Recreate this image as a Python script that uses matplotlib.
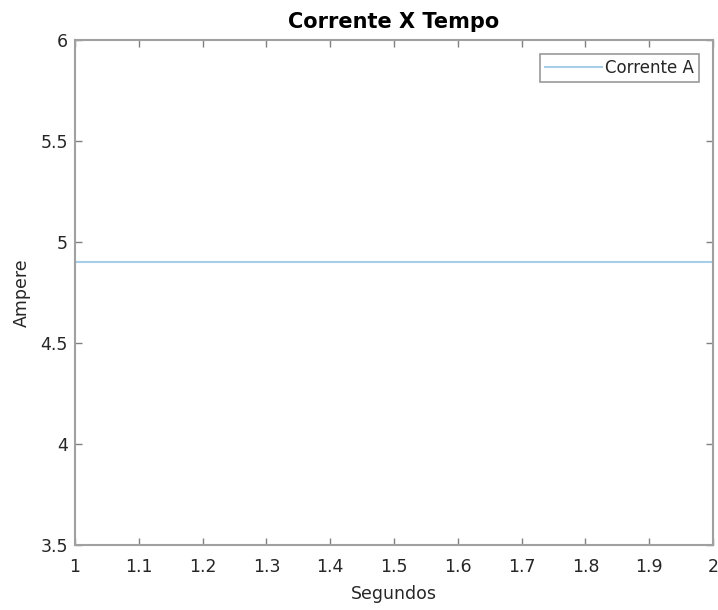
import matplotlib
matplotlib.use("Agg")
import matplotlib.pyplot as plt
import numpy as np

# dados
tempo = [1, 2]
corrente = [4.9, 4.9]
xticks = [1, 1.1, 1.2, 1.3, 1.4, 1.5, 1.6, 1.7, 1.8, 1.9, 2]
xticklabels = ["1", "1.1", "1.2", "1.3", "1.4", "1.5", "1.6", "1.7", "1.8", "1.9", "2"]
yticks = [3.5, 4, 4.5, 5, 5.5, 6]
yticklabels = ["3.5", "4", "4.5", "5", "5.5", "6"]

txt = "#262626"
frame = "#a0a0a0"

fig = plt.figure(figsize=(7.18, 6.10), dpi=100)
ax = fig.add_axes([75/718, 1 - 545/610, 638/718, 505/610])

ax.plot(tempo, corrente, color="#a6cee8", linewidth=1.5, label="Corrente A")

ax.set_xlim(1, 2)
ax.set_ylim(3.5, 6)
ax.set_xticks(xticks)
ax.set_xticklabels(xticklabels)
ax.set_yticks(yticks)
ax.set_yticklabels(yticklabels)

for s in ax.spines.values():
    s.set_color(frame)
    s.set_linewidth(1.5)
ax.tick_params(direction="in", top=True, right=True, colors="#808080",
               labelcolor=txt, labelsize=12.5, length=5, width=1, pad=5)
ax.tick_params(axis="x", pad=9)

ax.set_xlabel("Segundos", fontsize=12.5, color=txt, labelpad=7)
ax.set_ylabel("Ampere", fontsize=12.5, color=txt, labelpad=7)
ax.set_title("Corrente X Tempo", fontsize=15, fontweight="bold", color="black", pad=9)

leg = ax.legend(loc="upper right", bbox_to_anchor=(699/718, 1 - 54/610),
                bbox_transform=fig.transFigure, fontsize=12, frameon=True,
                fancybox=False, handlelength=3.4, handletextpad=0.2,
                borderpad=0.3, borderaxespad=0)
leg.get_frame().set_edgecolor("#808080")
leg.get_frame().set_linewidth(1.2)
for t in leg.get_texts():
    t.set_color(txt)

fig.savefig("out.png", dpi=100)
